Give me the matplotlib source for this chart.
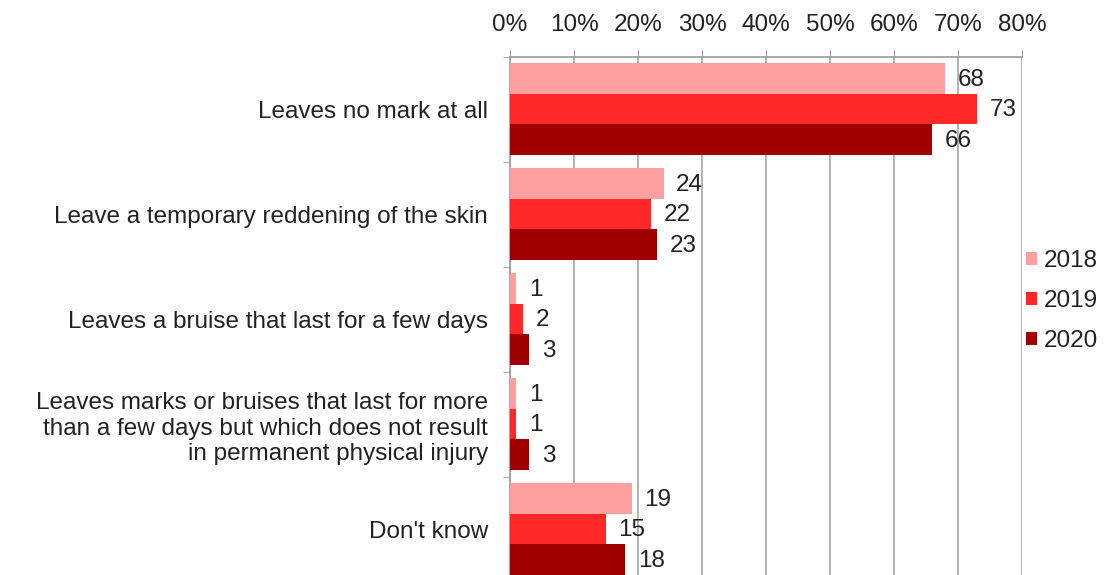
import numpy as np
import matplotlib.pyplot as plt
import matplotlib

matplotlib.rcParams['font.family'] = ['Liberation Sans', 'DejaVu Sans']

# 数据
categories = ['Leaves no mark at all',
              'Leave a temporary reddening of the skin',
              'Leaves a bruise that last for a few days',
              'Leaves marks or bruises that last for more\nthan a few days but which does not result\nin permanent physical injury',
              "Don't know"]
years = ['2018', '2019', '2020']
v2018 = [68, 24, 1, 1, 19]
v2019 = [73, 22, 2, 1, 15]
v2020 = [66, 23, 3, 3, 18]
colors = ['#FFA0A0', '#FF2828', '#A00000']

fs = 17.5
fig = plt.figure(figsize=(11.1, 5.75), dpi=100)
ax = fig.add_axes([510 / 1110, 1 - 582 / 575, 512 / 1110, 525 / 575])

y = np.arange(len(categories))
h = 0.29
for k, (vals, yr, c) in enumerate(zip([v2018, v2019, v2020], years, colors)):
    pos = y + (k - 1) * h - 0.005
    ax.barh(pos, vals, height=h, color=c, label=yr, zorder=3)
    for p, v in zip(pos, vals):
        ax.annotate(str(v), (v, p), xytext=(9, -1), textcoords='offset points',
                    va='center', ha='left', fontsize=fs, color='#222222')

ax.set_xlim(0, 80)
ax.set_ylim(4.5, -0.5)
ax.set_xticks(np.arange(0, 81, 10))
ax.set_xticklabels([f'{t}%' for t in range(0, 81, 10)])
ax.xaxis.tick_top()
ax.tick_params(axis='x', direction='out', length=5, color='#999999',
               labelsize=fs, pad=10, labelcolor='#222222')
ax.set_yticks(y)
ax.set_yticklabels(categories, fontsize=fs, ha='right', color='#222222')
ax.tick_params(axis='y', length=0, pad=16)
ax.set_yticks(np.arange(-0.5, 4.6, 1), minor=True)
ax.tick_params(axis='y', which='minor', length=5, color='#999999')
ax.grid(axis='x', color='#A6A6A6', linewidth=1.2, zorder=0)

for s in ['right', 'bottom']:
    ax.spines[s].set_visible(False)
ax.spines['left'].set_color('#999999')
ax.spines['top'].set_color('#999999')
ax.spines['left'].set_linewidth(1.2)
ax.spines['top'].set_linewidth(1.2)

leg = ax.legend(loc='center left', bbox_to_anchor=(1.0, 0.535), frameon=False,
                fontsize=fs, handlelength=0.45, handleheight=0.45, handletextpad=0.3,
                labelspacing=0.75, borderaxespad=0, borderpad=0.15)
for t in leg.get_texts():
    t.set_color('#222222')

plt.savefig('out.png', dpi=100)
